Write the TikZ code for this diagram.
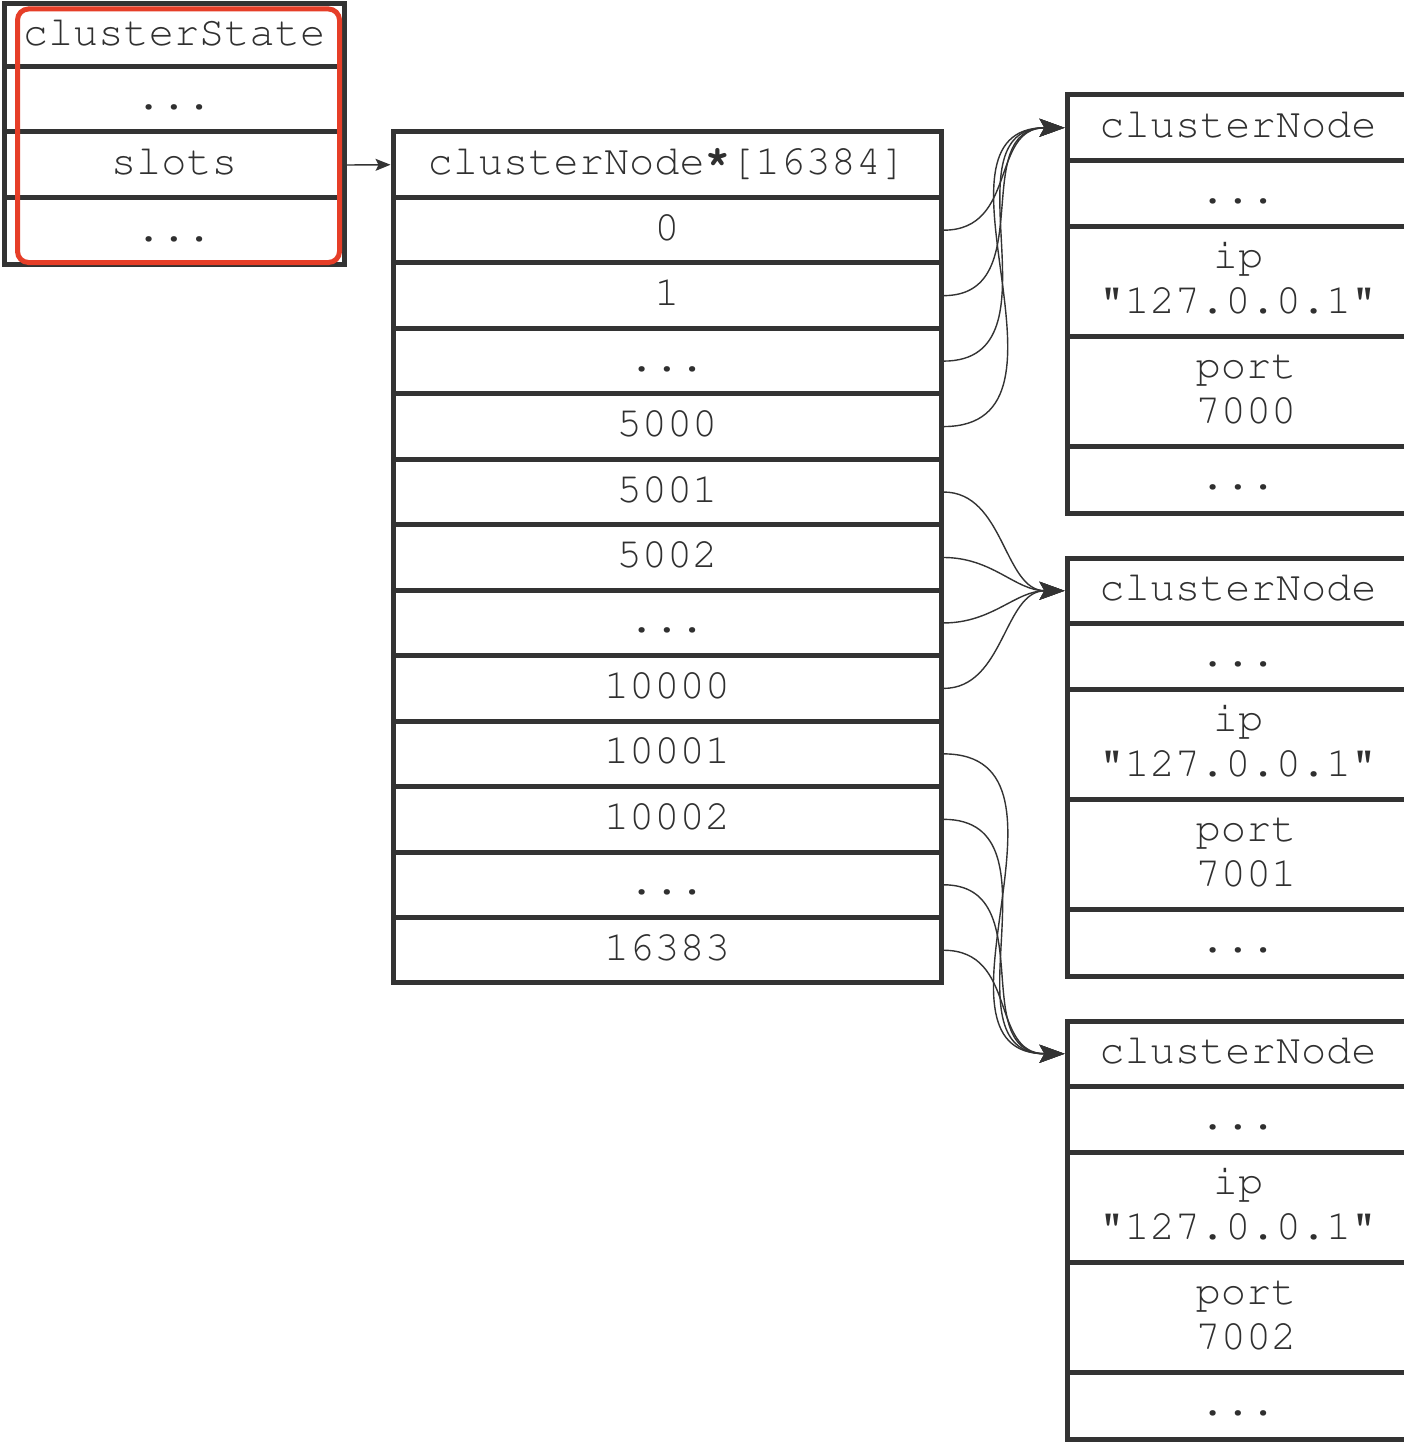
\documentclass[tikz,border=0pt]{standalone}
\usepackage[T1]{fontenc}
\usetikzlibrary{arrows.meta}
\definecolor{ink}{RGB}{51,51,51}
\definecolor{txt}{RGB}{48,48,48}
\definecolor{hl}{RGB}{230,62,40}
\tikzset{
  cell/.style={draw=ink, line width=5pt, inner sep=0pt, text=txt,
    font=\fontencoding{T1}\fontfamily{pcr}\fontsize{42pt}{45pt}\selectfont,
    text height=28pt, text depth=8pt},
  twoline/.style={text height=30pt, text depth=57pt},
  conn/.style={draw=ink, line width=1.4pt, -{Stealth[length=25pt,width=18pt,inset=5pt]}},
  ptr/.style={draw=ink, line width=1.4pt, -{Stealth[length=15pt,width=12pt,inset=3pt]}},
  frame/.style={draw=hl, line width=5pt, rounded corners=11pt}
}
\newcommand{\twol}[2]{\begin{tabular}[t]{@{}c@{}}#1\\#2\end{tabular}}
\newcommand{\ellip}{...}
\newcommand{\rast}{\raisebox{7pt}{\textbf{*}}}
\begin{document}
\begin{tikzpicture}[x=1pt,y=-1pt]
\useasboundingbox (0,0) rectangle (1404,1442);
\fill[white] (0,0) rectangle (1404,1442);
\clip (0,0) rectangle (1404,1442);

% clusterState
\begin{scope}[every node/.append style={cell, minimum width=340pt}]
\node[minimum height=63pt] (cs0) at (174,35.5) {clusterState};
\node[minimum height=65pt] (cs1) at (174,99.5) {\ellip};
\node[minimum height=66pt] (cs2) at (174,165) {slots};
\node[minimum height=66pt] (cs3) at (174,231) {\ellip};
\end{scope}
\draw[frame] (17.5,9) rectangle (339.5,262.5);

% slots array
\begin{scope}[every node/.append style={cell, minimum width=548pt, minimum height=65.46pt}]
\foreach \lab [count=\i from 0] in {clusterNode\rast[16384],0,1,\ellip,5000,5001,5002,\ellip,10000,10001,10002,\ellip,16383}
  \node (m\i) at (667,{132+65.46*(\i+0.5)}) {\lab};
\end{scope}

% clusterNode tables
\foreach \t/\port [count=\k from 0] in {a/7000,b/7001,c/7002}{
  \begin{scope}[yshift={-463pt*\k}, every node/.append style={cell, minimum width=342pt}]
  \node[minimum height=65.5pt] (\t0) at (1238,127.75) {clusterNode};
  \node[minimum height=66pt] (\t1) at (1238,193.5) {\ellip};
  \node[minimum height=110pt, twoline] (\t2) at (1238,281.5) {\twol{ip}{"127.0.0.1"}};
  \node[minimum height=110pt, twoline] (\t3) at (1238,391.5) {\twol{\hspace*{16pt}port}{\hspace*{16pt}\port}};
  \node[minimum height=66.5pt] (\t4) at (1238,479.75) {\ellip};
  \end{scope}
}

% pointers
\draw[ptr] (cs2.east) -- (m0.west);
\foreach \i in {1,2,3,4} \draw[conn] (m\i.east) to[out=0,in=180,looseness=1.2] (a0.west);
\foreach \i in {5,6,7,8} \draw[conn] (m\i.east) to[out=0,in=180] (b0.west);
\foreach \i in {9,10,11,12} \draw[conn] (m\i.east) to[out=0,in=180,looseness=1.2] (c0.west);
\end{tikzpicture}
\end{document}
